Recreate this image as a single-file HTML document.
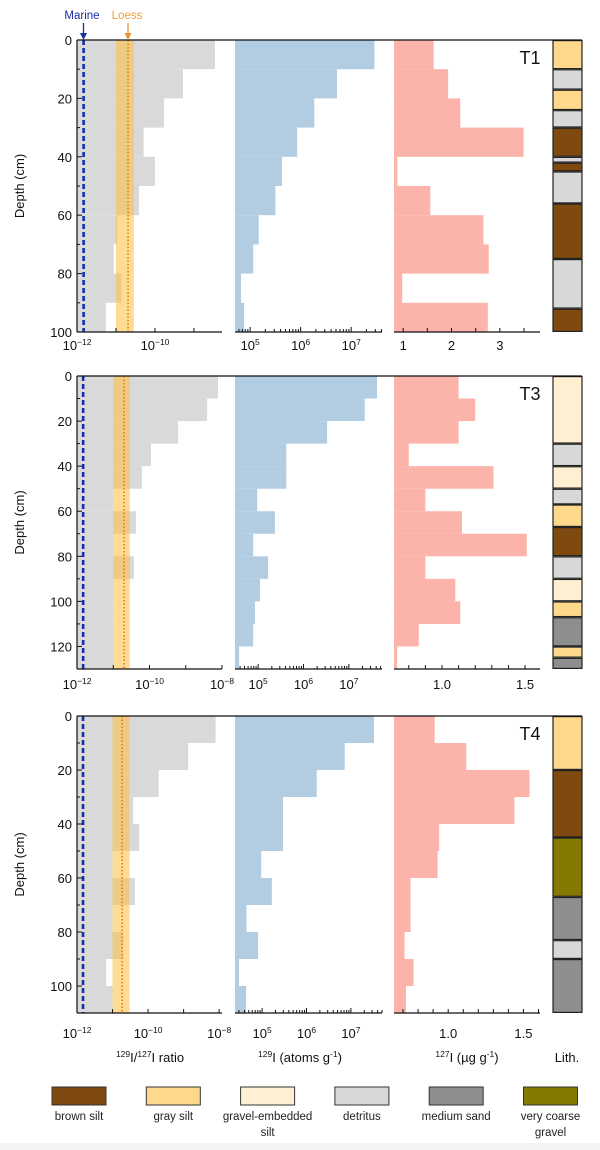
<!DOCTYPE html>
<html><head><meta charset="utf-8"><style>
body{margin:0;background:#fff;}
svg{display:block;font-family:"Liberation Sans",Arial,sans-serif;}
</style></head><body>
<svg id="fig" width="600" height="1150" viewBox="0 0 600 1150" xmlns="http://www.w3.org/2000/svg">
<rect x="0" y="0" width="600" height="1150" fill="#fff"/>
</svg>
<script>
// ---- Data ----
const depthBins1 = [0,10,20,30,40,50,60,70,80,90,100];
const depthBins2 = [0,10,20,30,40,50,60,70,80,90,100,110,120,130];
const depthBins3 = [0,10,20,30,40,50,60,70,80,90,100,110];
// log10 of 129I/127I ratio
const ratioT1 = [-8.46,-9.28,-9.77,-10.29,-10.0,-10.41,-10.97,-11.06,-10.86,-11.26];
const ratioT3 = [-8.11,-8.41,-9.21,-9.96,-10.21,-11.0,-10.37,-11.0,-10.43,-11.0,-11.0,-11.0,-11.0];
const ratioT4 = [-8.1,-8.87,-9.7,-10.42,-10.25,-11.0,-10.37,-11.0,-10.7,-11.18,-11.0];
// log10 of 129I atoms/g
const i129T1 = [7.46,6.72,6.27,5.93,5.63,5.5,5.17,5.06,4.82,4.88];
const i129T3 = [7.62,7.35,6.52,5.62,5.62,4.98,5.37,4.89,5.22,5.04,4.93,4.89,4.58];
const i129T4 = [7.52,6.86,6.23,5.47,5.47,4.98,5.22,4.65,4.91,4.48,4.64];
// 127I ug/g
const i127T1 = [1.63,1.93,2.18,3.49,0.88,1.56,2.66,2.77,0.98,2.75];
const i127T3 = [1.10,1.20,1.10,0.80,1.31,0.90,1.12,1.51,0.90,1.08,1.11,0.86,0.73];
const i127T4 = [0.91,1.12,1.54,1.44,0.94,0.93,0.75,0.75,0.71,0.77,0.72];
// reference lines (log10 ratio)
const marineLog = [-11.83,-11.83,-11.83];
const loessLog = [-10.69,-10.70,-10.73];
const loessBandLo = [-11.0,-11.0,-11.0];
const loessBandHi = [-10.54,-10.54,-10.52];
// lithology: [top, bottom, type]
const lithT1 = [[0,10,'g'],[10,17,'d'],[17,24,'g'],[24,30,'d'],[30,40,'b'],[40,42,'d'],[42,45,'b'],[45,56,'d'],[56,75,'b'],[75,92,'d'],[92,100,'b']];
const lithT3 = [[0,30,'e'],[30,40,'d'],[40,50,'e'],[50,57,'d'],[57,67,'g'],[67,80,'b'],[80,90,'d'],[90,100,'e'],[100,107,'g'],[107,120,'m'],[120,125,'g'],[125,130,'m']];
const lithT4 = [[0,20,'g'],[20,45,'b'],[45,67,'v'],[67,83,'m'],[83,90,'d'],[90,110,'m']];
const legendKeys = ['b','g','e','d','m','v'];
const legendLabels = [['brown silt'],['gray silt'],['gravel-embedded','silt'],['detritus'],['medium sand'],['very coarse','gravel']];
const panelNames = ['T1','T3','T4'];
const depthMax = [100,130,110];
const depthTicks = [[0,20,40,60,80,100],[0,20,40,60,80,100,120],[0,20,40,60,80,100]];
const ratioDomain = [[-12,-8.28],[-12,-8],[-12,-7.92]];
const ratioLabels = [[-12,-10],[-12,-10,-8],[-12,-10,-8]];
const i129Domain = [[4.70,7.61],[4.49,7.73],[4.39,7.70]];
const i129Labels = [5,6,7];
const i127Domain = [[0.81,3.83],[0.711,1.59],[0.64,1.61]];
const i127Labels = [[1,2,3],[1.0,1.5],[1.0,1.5]];

const litColor = {b:'#7f4a10',g:'#fed98c',e:'#fff0d2',d:'#d8d8d8',m:'#8e8e8e',v:'#847a02'};
const panelsY = [[40,332],[376,669],[716,1013]];
const tickLabelY = [350,689,1038];
const XR=[77,222], XB=[235,382], XP=[394,540], XL=[553,582];

const svg = document.getElementById('fig');
const NS='http://www.w3.org/2000/svg';
function mk(tag, attrs, parent){const e=document.createElementNS(NS,tag);for(const k in attrs)e.setAttribute(k,attrs[k]);(parent||svg).appendChild(e);return e;}
function lin(d0,d1,r0,r1){return v=>r0+(v-d0)/(d1-d0)*(r1-r0);}
function supText(parent,x,y,base,exp,anchor,size){
  const t=mk('text',{x:x,y:y,'text-anchor':anchor,'font-size':size,fill:'#111'},parent);
  t.appendChild(document.createTextNode(base));
  const s=mk('tspan',{'font-size':size*0.65,dy:-size*0.4},t);s.textContent=exp;
  return t;
}

const ratioData=[ratioT1,ratioT3,ratioT4], i129Data=[i129T1,i129T3,i129T4], i127Data=[i127T1,i127T3,i127T4];
const binsData=[depthBins1,depthBins2,depthBins3], lithData=[lithT1,lithT3,lithT4];

for(let p=0;p<3;p++){
  const g=mk('g',{});
  
  
  const [yt,yb]=panelsY[p];
  const y=lin(0,depthMax[p],yt,yb);
  const xr=lin(ratioDomain[p][0],ratioDomain[p][1],XR[0],XR[1]);
  const xb=lin(i129Domain[p][0],i129Domain[p][1],XB[0],XB[1]);
  const xp=lin(i127Domain[p][0],i127Domain[p][1],XP[0],XP[1]);
  const bins=binsData[p];
  // ratio bars
  ratioData[p].forEach((v,i)=>{
    const r=mk('rect',{x:XR[0],y:y(bins[i]),width:Math.max(0,xr(v)-XR[0]),height:y(bins[i+1])-y(bins[i]),fill:'#d9d9d9'},g);
    
    
  });
  // loess band
  const band=mk('rect',{x:xr(loessBandLo[p]),y:yt,width:xr(loessBandHi[p])-xr(loessBandLo[p]),height:yb-yt,fill:'rgba(255,190,60,0.55)'},g);
  
  
  const ld=mk('line',{x1:xr(loessLog[p]),x2:xr(loessLog[p]),y1:yt,y2:yb,stroke:'#e07a10','stroke-width':1.5,'stroke-dasharray':'1.5 2'},g);
  
  
  const md=mk('line',{x1:xr(marineLog[p]),x2:xr(marineLog[p]),y1:yt,y2:yb,stroke:'#1030b0','stroke-width':2.6,'stroke-dasharray':'5 3'},g);
  
  
  // 129I bars
  i129Data[p].forEach((v,i)=>{
    const r=mk('rect',{x:XB[0],y:y(bins[i]),width:Math.max(0,xb(v)-XB[0]),height:y(bins[i+1])-y(bins[i]),fill:'#b2cde2'},g);
    
    
  });
  // 127I bars
  i127Data[p].forEach((v,i)=>{
    const r=mk('rect',{x:XP[0],y:y(bins[i]),width:Math.max(0,xp(v)-XP[0]),height:y(bins[i+1])-y(bins[i]),fill:'#fbb3aa'},g);
    
    
  });
  // lithology
  lithData[p].forEach(l=>{
    const r=mk('rect',{x:XL[0],y:y(l[0])+0.6,width:XL[1]-XL[0],height:y(l[1])-y(l[0])-1.2,fill:litColor[l[2]],stroke:'#222','stroke-width':1.2},g);
    
    
  });
  // top line & left axis
  mk('line',{x1:XR[0],x2:XL[1],y1:yt,y2:yt,stroke:'#111','stroke-width':1.2},g);
  mk('line',{x1:XR[0],x2:XR[0],y1:yt,y2:yb,stroke:'#111','stroke-width':1.2},g);
  // y ticks
  for(let d=0;d<=depthMax[p];d+=10){
    mk('line',{x1:XR[0],x2:XR[0]+(d%20===0?5:3),y1:y(d),y2:y(d),stroke:'#111','stroke-width':1},g);
  }
  depthTicks[p].forEach(d=>{
    const t=mk('text',{x:XR[0]-5,y:y(d)+5,'text-anchor':'end','font-size':13,fill:'#111'},g);
    t.textContent=d;
    
    
  });
  const yl=mk('text',{x:0,y:0,'text-anchor':'middle','font-size':13,fill:'#111',transform:`translate(24,${(yt+yb)/2}) rotate(-90)`},g);
  yl.textContent='Depth (cm)';
  
  
  // bottom axes
  [[XR],[XB],[XP]].forEach(a=>mk('line',{x1:a[0][0],x2:a[0][1],y1:yb,y2:yb,stroke:'#111','stroke-width':1.2},g));
  // ratio ticks
  for(let k=-12;k<=ratioDomain[p][1];k++) mk('line',{x1:xr(k),x2:xr(k),y1:yb,y2:yb-4,stroke:'#111'},g);
  ratioLabels[p].forEach(k=>{
    const t=supText(g,xr(k),tickLabelY[p],'10',String(k).replace('-','\u2212'),'middle',13);
    
    
  });
  // 129I ticks
  for(let k=4;k<=7;k++){for(let m=1;m<10;m++){const lv=k+Math.log10(m);if(lv<i129Domain[p][0]||lv>i129Domain[p][1])continue;
    mk('line',{x1:xb(lv),x2:xb(lv),y1:yb,y2:yb-(m===1?5:3),stroke:'#111'},g);}}
  i129Labels.forEach(k=>{
    const t=supText(g,xb(k),tickLabelY[p],'10',String(k),'middle',13);
    
    
  });
  // 127I ticks
  const step=p===0?0.5:0.1;
  for(let v=Math.ceil(i127Domain[p][0]/step)*step;v<=i127Domain[p][1];v+=step){
    mk('line',{x1:xp(v),x2:xp(v),y1:yb,y2:yb-4,stroke:'#111'},g);}
  i127Labels[p].forEach(v=>{
    const t=mk('text',{x:xp(v),y:tickLabelY[p],'text-anchor':'middle','font-size':13,fill:'#111'},g);
    t.textContent=p===0?String(v):v.toFixed(1);
    
    
  });
  const pl=mk('text',{x:530,y:yt+24,'text-anchor':'middle','font-size':18,fill:'#111'},g);
  pl.textContent=panelNames[p];
  
  
}
// Marine / Loess labels
const ml=mk('text',{x:82,y:19,'text-anchor':'middle','font-size':11.5,fill:'#1a2fa0'});ml.textContent='Marine';


const ll=mk('text',{x:127,y:19,'text-anchor':'middle','font-size':11.5,fill:'#f0a030'});ll.textContent='Loess';


mk('line',{x1:83.5,x2:83.5,y1:23,y2:36,stroke:'#1a2fa0','stroke-width':1.3});
mk('path',{d:'M80,33 L87,33 L83.5,40 Z',fill:'#1a2fa0'});
mk('line',{x1:128,x2:128,y1:23,y2:36,stroke:'#e8962a','stroke-width':1.3});
mk('path',{d:'M124.5,33 L131.5,33 L128,40 Z',fill:'#e8962a'});
// axis titles
const at1=mk('text',{x:150,y:1062,'text-anchor':'middle','font-size':13,fill:'#111'});


at1.innerHTML='<tspan font-size="8.5" dy="-5">129</tspan><tspan dy="5">I/</tspan><tspan font-size="8.5" dy="-5">127</tspan><tspan dy="5">I ratio</tspan>';
const at2=mk('text',{x:300,y:1062,'text-anchor':'middle','font-size':13,fill:'#111'});


at2.innerHTML='<tspan font-size="8.5" dy="-5">129</tspan><tspan dy="5">I (atoms g</tspan><tspan font-size="8.5" dy="-5">-1</tspan><tspan dy="5">)</tspan>';
const at3=mk('text',{x:467,y:1062,'text-anchor':'middle','font-size':13,fill:'#111'});


at3.innerHTML='<tspan font-size="8.5" dy="-5">127</tspan><tspan dy="5">I (\u00b5g g</tspan><tspan font-size="8.5" dy="-5">-1</tspan><tspan dy="5">)</tspan>';
const at4=mk('text',{x:567,y:1062,'text-anchor':'middle','font-size':13,fill:'#111'});at4.textContent='Lith.';


// legend
legendKeys.forEach((k,i)=>{
  const cx=79+i*94.3;
  const r=mk('rect',{x:cx-27,y:1087,width:54,height:18,fill:litColor[k],stroke:'#333','stroke-width':1});
  
  
  legendLabels[i].forEach((s,j)=>{
    const t=mk('text',{x:cx,y:1120+j*16,'text-anchor':'middle','font-size':11.5,fill:'#222'});t.textContent=s;
    
    
  });
});
mk('rect',{x:0,y:1143,width:600,height:7,fill:'#f3f3f3'});
</script>
</body></html>
